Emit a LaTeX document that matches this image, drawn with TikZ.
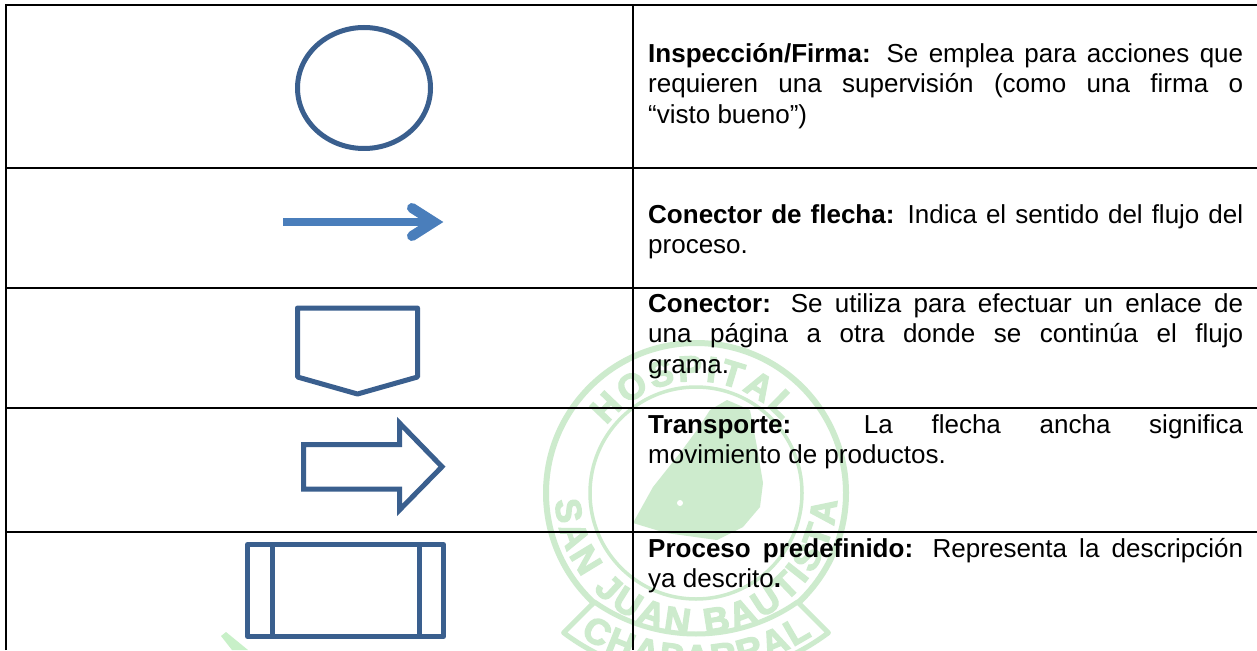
\documentclass[tikz,border=0pt]{standalone}
\usepackage{fontspec}
\setmainfont{Liberation Sans}
\newfontfamily\sealfont{Liberation Sans}[UprightFont=* Bold,FakeBold=3.5]
\usetikzlibrary{decorations.text}
\definecolor{shapeblue}{HTML}{3A5F8E}
\definecolor{arrowblue}{HTML}{4A7EBB}
\definecolor{seal}{HTML}{CDEBCD}
\definecolor{sealsmear}{HTML}{C8F0C8}
\tikzset{
  rule/.style={line width=2pt,black},
  shapeline/.style={draw=shapeblue,line width=5pt,line join=round},
  desc/.style={anchor=north west,inner sep=0pt,align=left,black,font=\fontsize{26}{30.5}\selectfont},
  sealtext/.style={decorate},
}
\newcommand{\jline}[1]{\makebox[595pt][s]{#1}}
\newcommand{\firstl}{\rule{0pt}{20pt}}
\begin{document}
\begin{tikzpicture}[x=1pt,y=-1pt]
\useasboundingbox (0,0) rectangle (1257,650);
\fill[white] (0,0) rectangle (1257,650);
% watermark
\begin{scope}[shift={(696,493)},x=1pt,y=1pt]
  \clip (-700,157) rectangle (561,-493);
  \draw[seal,line width=6pt] (227:150) arc (227:-47:150);
  \draw[seal,line width=3.5pt] (0,0) circle (106);
  \fill[seal] (31,93) -- (54,83) -- (61,46) -- (67,10) -- (64,-14) -- (47,-34) -- (21,-47) -- (-30,-40) -- (-63,-30) -- (-43,6) -- (-16,40) -- (1,63) -- (14,83) -- cycle;
  \fill[white] (-16,-10) circle (3);
  \path[sealtext,decoration={text along path,text align=fit to path,
    text={|\color{seal}\fontsize{36}{36}\sealfont|HOSPITAL}}] (143:112) arc (143:40:112);
  \path[sealtext,decoration={text along path,text align=fit to path,
    text={|\color{seal}\fontsize{36}{36}\sealfont|SAN JUAN BAUTISTA}}] (183:141) arc (183:357:141);
  \begin{scope}[shift={(0,36)}]
    \draw[seal,line width=5pt,line join=round] (-125:177) arc (-125:-55:177) -- (-53:220) arc (-53:-127:220) -- cycle;
    \path[sealtext,decoration={text along path,text align=fit to path,
      text={|\color{seal}\fontsize{36}{36}\sealfont|CHAPARRAL}}] (-123:213) arc (-123:-57:213);
  \end{scope}
\end{scope}
\fill[sealsmear] (221,636) -- (226,632) -- (248,650) -- (232,650) -- cycle;
% table
\draw[rule] (6,650) -- (6,5) -- (1257,5);
\draw[rule] (6,167.5) -- (1257,167.5);
\draw[rule] (6,287.5) -- (1257,287.5);
\draw[rule] (6,408) -- (1257,408);
\draw[rule] (6,531.5) -- (1257,531.5);
\draw[rule] (633,5) -- (633,650);
% symbols
\draw[shapeline] (364,88) ellipse [x radius=66.5,y radius=60.5];
\draw[arrowblue,line width=8pt] (283,222) -- (434,222);
\draw[arrowblue,line width=10pt,line cap=round,miter limit=10] (412,208) -- (434,222) -- (412,236);
\draw[shapeline] (297.5,308) -- (417.5,308) -- (417.5,377) -- (357.5,394) -- (297.5,377) -- cycle;
\draw[shapeline,line join=miter] (303.5,444.5) -- (399.5,444.5) -- (399.5,423) -- (442,466.7) -- (399.5,510) -- (399.5,489) -- (303.5,489) -- cycle;
\draw[shapeline] (247.5,544.5) rectangle (443.5,636.5);
\draw[shapeline] (272,544.5) -- (272,636.5);
\draw[shapeline] (419,544.5) -- (419,636.5);
% descriptions
\node[desc] (d1) at (648,42) {\jline{\firstl\textbf{Inspección/Firma:} Se emplea para acciones que}\\\jline{requieren una supervisión (como una firma o}\\“visto bueno”)};
\node[desc] (d2) at (648,203) {\jline{\firstl\textbf{Conector de flecha:} Indica el sentido del flujo del}\\proceso.};
\node[desc] (d3) at (648,292) {\jline{\firstl\textbf{Conector:} Se utiliza para efectuar un enlace de}\\\jline{una página a otra donde se continúa el flujo}\\grama.};
\node[desc] (d4) at (648,413) {\jline{\firstl\textbf{Transporte:} La flecha ancha significa}\\movimiento de productos.};
\node[desc] (d5) at (648,537) {\jline{\firstl\textbf{Proceso predefinido:} Representa la descripción}\\ya descrito\textbf{.}};
\end{tikzpicture}
\end{document}
